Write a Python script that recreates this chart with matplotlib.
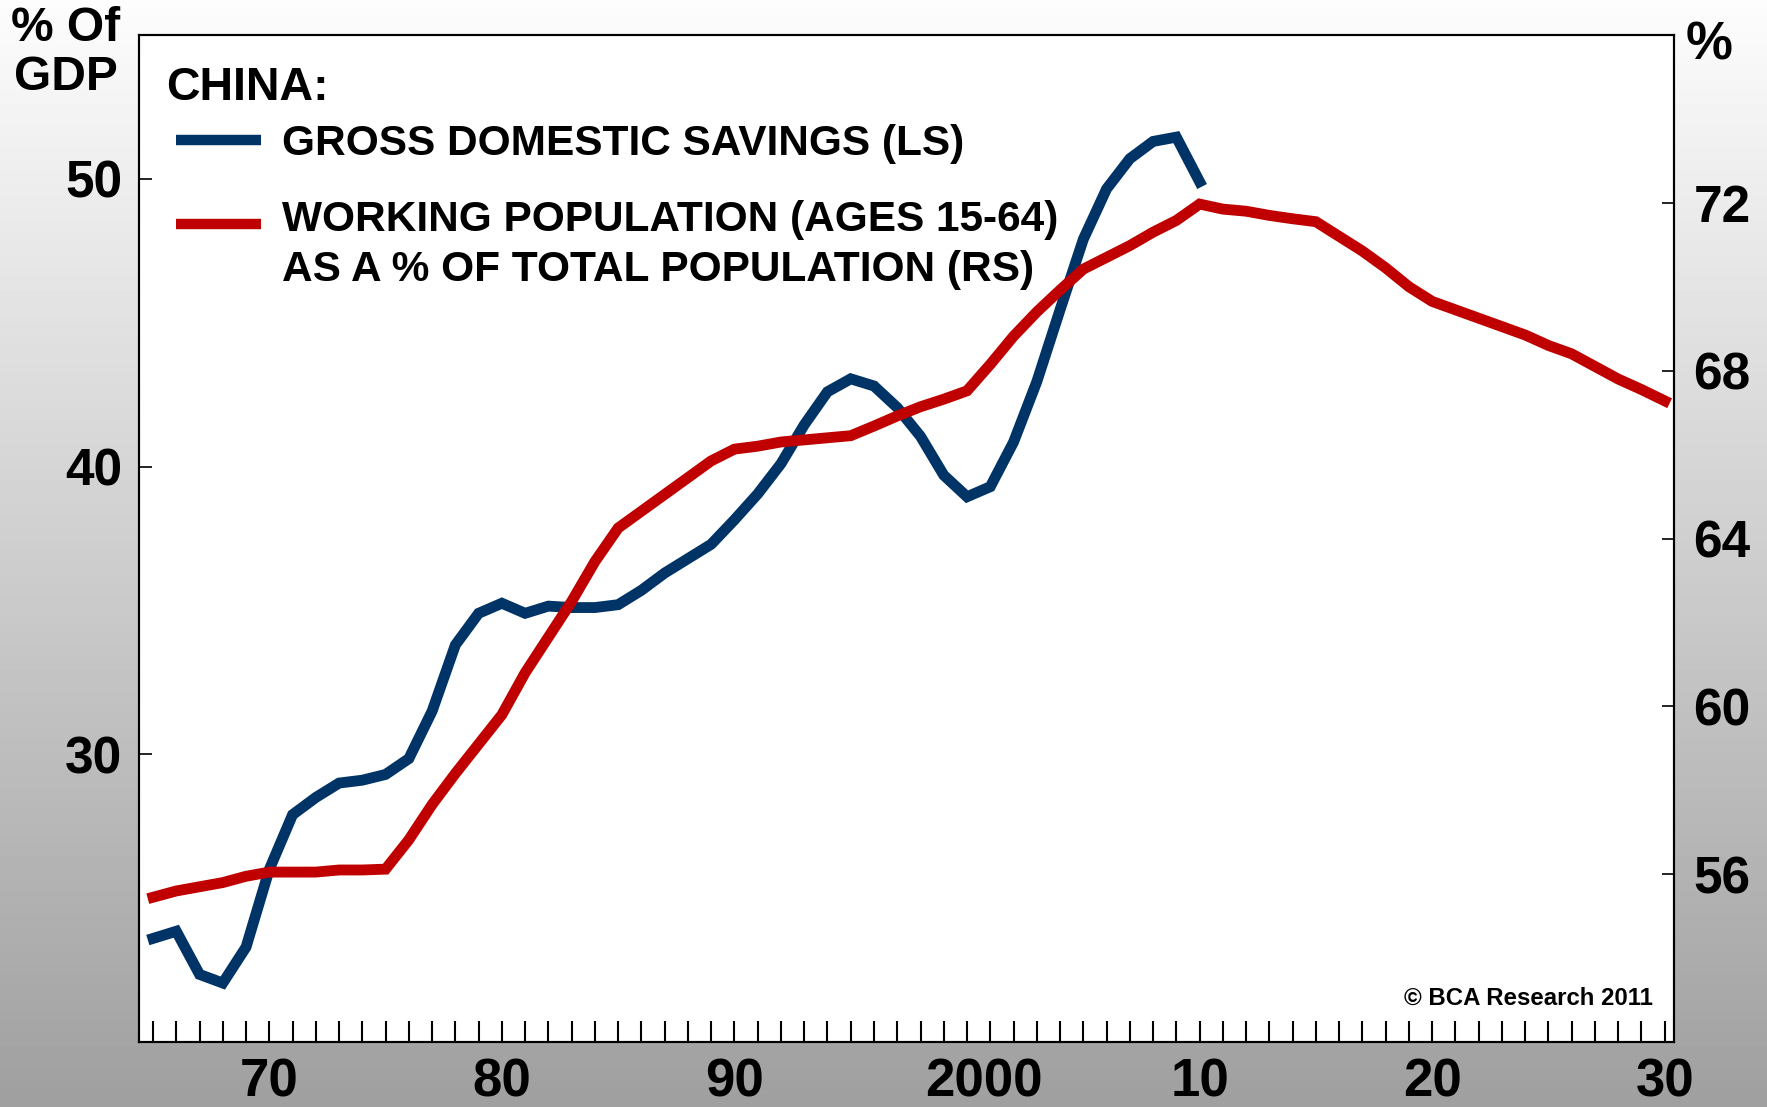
import numpy as np
import matplotlib.pyplot as plt
import matplotlib.transforms as mtransforms

# China: gross domestic savings (% of GDP, left scale) and working age
# population as % of total population (right scale)
years_sav = list(range(1965, 2011))
savings = [23.6, 23.85, 22.35, 22.05, 23.3, 26.0, 27.9, 28.5, 29.0, 29.1,
           29.3, 29.85, 31.5, 33.8, 34.9, 35.25, 34.9, 35.15, 35.1, 35.1,
           35.2, 35.7, 36.3, 36.8, 37.3, 38.15, 39.05, 40.1, 41.45, 42.6,
           43.05, 42.8, 42.05, 41.05, 39.7, 38.95, 39.3, 40.85, 42.95, 45.45,
           47.9, 49.65, 50.7, 51.3, 51.45, 49.9]

years_pop = list(range(1965, 2031))
working_pop = [55.45, 55.6, 55.7, 55.8, 55.95, 56.05, 56.05, 56.05, 56.1, 56.1,
               56.12, 56.82, 57.66, 58.4, 59.1, 59.8, 60.8, 61.65, 62.5, 63.45,
               64.25, 64.65, 65.05, 65.45, 65.85, 66.13, 66.2, 66.3, 66.35, 66.4,
               66.45, 66.68, 66.92, 67.14, 67.32, 67.52, 68.15, 68.82, 69.4, 69.92,
               70.42, 70.7, 70.98, 71.3, 71.58, 71.97, 71.85, 71.8, 71.7, 71.62,
               71.55, 71.2, 70.85, 70.45, 70.0, 69.65, 69.45, 69.25, 69.05, 68.85,
               68.6, 68.4, 68.1, 67.8, 67.55, 67.28]

xtick_years = [1970, 1980, 1990, 2000, 2010, 2020, 2030]
xtick_labels = ['70', '80', '90', '2000', '10', '20', '30']
left_ticks = [30, 40, 50]
right_ticks = [56, 60, 64, 68, 72]

blue = '#003366'
red = '#c00000'
font = ['Liberation Sans', 'DejaVu Sans']
plt.rcParams['font.family'] = font
plt.rcParams['font.weight'] = 'bold'

fig = plt.figure(figsize=(17.67, 11.07), dpi=100)

# grey gradient background behind everything
bg = fig.add_axes([0, 0, 1, 1], zorder=-10)
grad = np.linspace(0.99, 0.625, 256).reshape(-1, 1)
bg.imshow(grad, aspect='auto', cmap='gray', vmin=0, vmax=1, extent=[0, 1, 0, 1])
bg.axis('off')

ax = fig.add_axes([0.0787, 0.0587, 0.8687, 0.9097])
ax.set_facecolor('white')
ax2 = ax.twinx()

ax.plot(years_sav, savings, color=blue, lw=7.8, solid_joinstyle='miter', zorder=3)
ax2.plot(years_pop, working_pop, color=red, lw=7.8, solid_joinstyle='miter', zorder=2)

ax.set_xlim(1964.4, 2030.4)
ax.set_ylim(20, 55)
ax2.set_ylim(52, 76)

# x axis: a small inward tick every year, labels every decade
ax.set_xticks(list(range(1965, 2031)))
ax.tick_params(axis='x', direction='in', length=15, width=1.5, labelbottom=False)
for yr, lab in zip(xtick_years, xtick_labels):
    # the "2000" label sits a little right of its tick in the original
    dx = 12 if lab == '2000' else 0
    tr = mtransforms.offset_copy(ax.get_xaxis_transform(), fig=fig, x=dx, y=0, units='points')
    ax.text(yr, -0.04, lab, transform=tr, ha='center',
            va='center', fontsize=38, fontweight='bold')

ax.set_yticks(left_ticks)
ax.tick_params(axis='y', direction='in', length=9, width=1.2, pad=12, labelsize=37)
ax2.set_yticks(right_ticks)
ax2.tick_params(axis='y', direction='in', length=9, width=1.2, pad=14, labelsize=37)
for a in (ax, ax2):
    for s in a.spines.values():
        s.set_linewidth(1.5)
        s.set_color('black')

# axis unit labels
fig.text(66 / 1767, 1 - 53 / 1107, '% Of\nGDP', ha='center', va='center',
         fontsize=34.5, fontweight='bold', linespacing=1.1)
fig.text(1686 / 1767, 1 - 45 / 1107, '%', ha='left', va='center',
         fontsize=38, fontweight='bold')

# legend drawn by hand like the original
fig.text(166 / 1767, 1 - 88 / 1107, 'CHINA:', ha='left', va='center',
         fontsize=33.5, fontweight='bold')
fig.add_artist(plt.Line2D([176 / 1767, 261 / 1767], [1 - 140 / 1107] * 2,
                          color=blue, lw=7.5, solid_capstyle='butt'))
fig.text(282 / 1767, 1 - 144 / 1107, 'GROSS DOMESTIC SAVINGS (LS)', ha='left',
         va='center', fontsize=30.5, fontweight='bold')
fig.add_artist(plt.Line2D([176 / 1767, 261 / 1767], [1 - 224 / 1107] * 2,
                          color=red, lw=7.5, solid_capstyle='butt'))
fig.text(282 / 1767, 1 - 245 / 1107,
         'WORKING POPULATION (AGES 15-64)\nAS A % OF TOTAL POPULATION (RS)',
         ha='left', va='center', fontsize=30.5, fontweight='bold', linespacing=1.3)

ax.text(0.9863, 0.0365, '\u00a9 BCA Research 2011', transform=ax.transAxes,
        ha='right', va='baseline', fontsize=17.3, fontweight='bold')

plt.savefig('out.png', dpi=100)
